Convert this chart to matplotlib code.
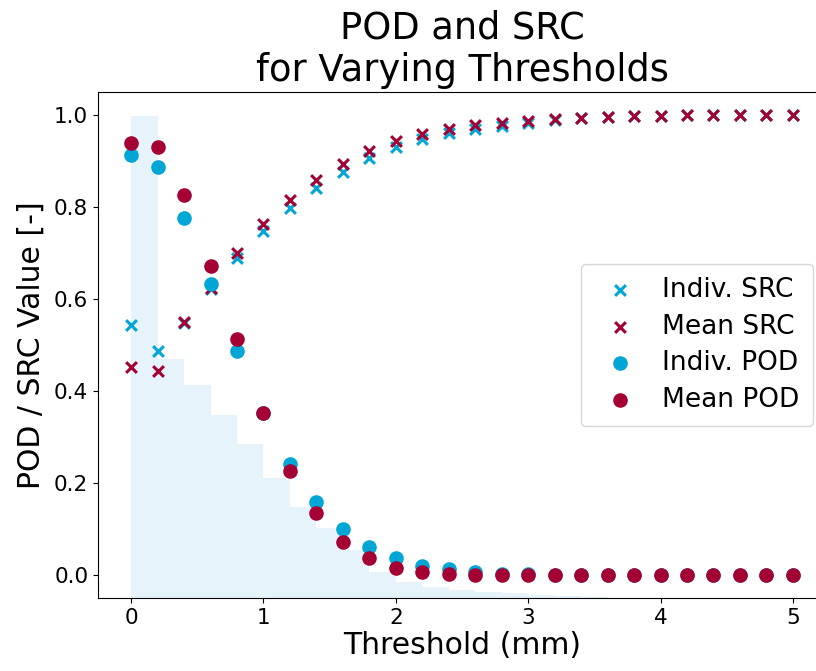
import numpy as np
import matplotlib
matplotlib.use("Agg")
import matplotlib.pyplot as plt

thresholds = [0.0, 0.2, 0.4, 0.6, 0.8, 1.0, 1.2, 1.4, 1.6, 1.8, 2.0, 2.2, 2.4,
              2.6, 2.8, 3.0, 3.2, 3.4, 3.6, 3.8, 4.0, 4.2, 4.4, 4.6, 4.8, 5.0]

indiv_src = [0.543, 0.487, 0.548, 0.622, 0.690, 0.748, 0.798, 0.842, 0.877, 0.906,
             0.930, 0.948, 0.960, 0.970, 0.977, 0.983, 0.989, 0.993, 0.995, 0.997,
             0.998, 0.999, 0.999, 1.0, 1.0, 1.0]
mean_src = [0.453, 0.443, 0.550, 0.625, 0.700, 0.762, 0.816, 0.859, 0.894, 0.922,
            0.944, 0.959, 0.970, 0.978, 0.983, 0.987, 0.991, 0.994, 0.996, 0.997,
            0.998, 0.999, 0.999, 1.0, 1.0, 1.0]
indiv_pod = [0.912, 0.887, 0.776, 0.632, 0.487, 0.352, 0.242, 0.158, 0.100, 0.061,
             0.037, 0.020, 0.013, 0.007, 0.003, 0.002, 0.001, 0.0, 0.0, 0.0,
             0.0, 0.0, 0.0, 0.0, 0.0, 0.0]
mean_pod = [0.940, 0.930, 0.826, 0.672, 0.512, 0.353, 0.226, 0.135, 0.072, 0.036,
            0.016, 0.006, 0.003, 0.001, 0.0, 0.0, 0.0, 0.0, 0.0, 0.0,
            0.0, 0.0, 0.0, 0.0, 0.0, 0.0]

hist_edges = [0.0, 0.2, 0.4, 0.6, 0.8, 1.0, 1.2, 1.4, 1.6, 1.8, 2.0, 2.2, 2.4,
              2.6, 2.8, 3.0, 3.2, 3.4, 3.6]
hist_heights = [1.0, 0.496, 0.442, 0.380, 0.320, 0.250, 0.188, 0.145, 0.099, 0.054,
                0.033, 0.023, 0.016, 0.012, 0.010, 0.006, 0.004, 0.002]

CYAN = "#00A6D6"
RED = "#A50034"

fig = plt.figure(figsize=(8.16, 6.71), dpi=100)
ax = fig.add_axes([98 / 816, 73 / 671, 728 / 816, 506 / 671])
ax2 = ax.twinx()

ax2.bar(hist_edges[:-1], hist_heights, width=np.diff(hist_edges), align="edge",
        color="#e6f3fa", linewidth=0)
ax2.set_ylim(0, max(hist_heights) * 1.05)
ax2.axis("off")

ax.set_zorder(ax2.get_zorder() + 1)
ax.patch.set_visible(False)
ax.spines["right"].set_visible(False)

ms = 60
ax.scatter(thresholds, indiv_src, marker="x", s=ms, color=CYAN, linewidths=2.2, label="Indiv. SRC")
ax.scatter(thresholds, mean_src, marker="x", s=ms, color=RED, linewidths=2.2, label="Mean SRC")
ax.scatter(thresholds, indiv_pod, marker="o", s=ms * 1.5, color=CYAN, label="Indiv. POD")
ax.scatter(thresholds, mean_pod, marker="o", s=ms * 1.5, color=RED, label="Mean POD")

ax.set_xlim(-0.25, 5.25)
ax.set_ylim(-0.05, 1.05)
ax.set_xticks([0, 1, 2, 3, 4, 5])
ax.set_yticks([0.0, 0.2, 0.4, 0.6, 0.8, 1.0])
ax.tick_params(labelsize=15.5)
ax.set_xlabel("Threshold (mm)", fontsize=21.5, labelpad=2)
ax.set_ylabel("POD / SRC Value [-]", fontsize=21.5, labelpad=6)
ax.set_title("POD and SRC\nfor Varying Thresholds", fontsize=26.5, pad=8)

ax.legend(loc="center right", fontsize=19, handletextpad=0.6, borderpad=0.5,
          labelspacing=0.4)

fig.savefig("out.png", dpi=100)
